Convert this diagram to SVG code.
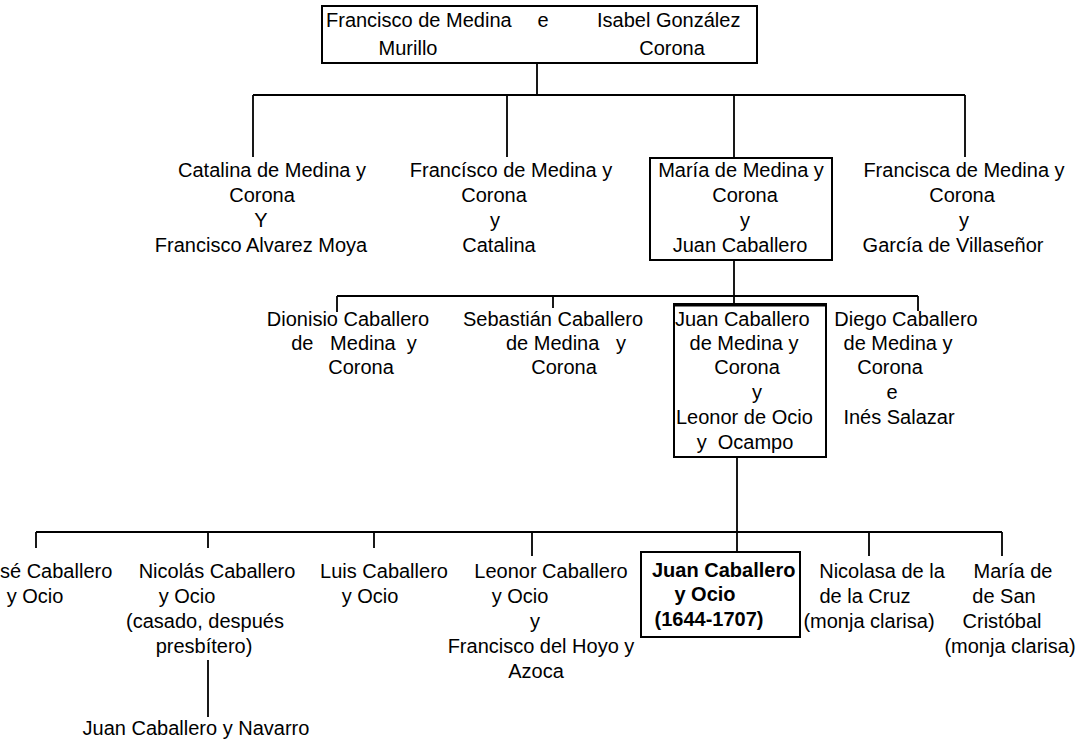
<svg xmlns="http://www.w3.org/2000/svg" width="1092" height="747" viewBox="0 0 1092 747">
<style>
text{font-family:"Liberation Sans",Arial,sans-serif;font-size:20px;fill:#000;text-anchor:middle}
.b{font-weight:bold}
.s{text-anchor:start}
.box{fill:none;stroke:#000;stroke-width:2}
.ln{fill:none;stroke:#000;stroke-width:1.8}
</style>
<rect width="1092" height="747" fill="#fff"/>
<g id="connectors" class="ln">
<path d="M537 63V95M253 95H965M253 95V157M507 95V157M734 95V158M965 95V157"/>
<path d="M734 260V304M337 296H918M337 296V312M553 296V308M918 296V311"/>
<path d="M737 457V552M36 532H1002M36 532V548M208 532V548M374 532V548M532 532V556M869 532V556M1002 532V556"/>
<path d="M208 660V717"/>
</g>
<g id="n-parents">
<rect class="box" x="322" y="6" width="435" height="57"/>
<text class="s" x="326" y="27">Francisco de Medina</text>
<text x="543" y="27">e</text>
<text class="s" x="597" y="27">Isabel González</text>
<text x="408" y="55">Murillo</text>
<text x="672" y="55">Corona</text>
</g>
<g id="n-catalina">
<text x="272" y="177">Catalina de Medina y</text>
<text x="262" y="202">Corona</text>
<text x="261" y="227">Y</text>
<text x="261" y="252">Francisco Alvarez Moya</text>
</g>
<g id="n-francisco">
<text x="511" y="177">Francísco de Medina y</text>
<text x="494" y="202">Corona</text>
<text x="495" y="227">y</text>
<text x="499" y="252">Catalina</text>
</g>
<g id="n-maria">
<rect class="box" x="650" y="158" width="182" height="102"/>
<text x="741" y="177">María de Medina y</text>
<text x="745" y="202">Corona</text>
<text x="745" y="227">y</text>
<text x="740" y="252">Juan Caballero</text>
</g>
<g id="n-francisca">
<text x="964" y="177">Francisca de Medina y</text>
<text x="962" y="202">Corona</text>
<text x="964" y="227">y</text>
<text x="953" y="252">García de Villaseñor</text>
</g>
<g id="n-dionisio">
<text x="348" y="326">Dionisio Caballero</text>
<text x="354" y="350" xml:space="preserve">de   Medina  y</text>
<text x="361" y="374">Corona</text>
</g>
<g id="n-sebastian">
<text x="553" y="326">Sebastián Caballero</text>
<text x="566" y="350" xml:space="preserve">de Medina   y</text>
<text x="564" y="374">Corona</text>
</g>
<g id="n-juan-medina">
<rect class="box" x="674" y="304" width="152" height="153"/>
<path d="M674 305H826" stroke="#000" stroke-width="3"/>
<text class="s" x="675" y="326">Juan Caballero</text>
<text x="744" y="350">de Medina y</text>
<text x="747" y="374">Corona</text>
<text x="757" y="399">y</text>
<text class="s" x="676" y="424">Leonor de Ocio</text>
<text x="745" y="449" xml:space="preserve">y  Ocampo</text>
</g>
<g id="n-diego">
<text x="906" y="326">Diego Caballero</text>
<text x="898" y="350">de Medina y</text>
<text x="890" y="374">Corona</text>
<text x="892" y="399">e</text>
<text x="899" y="424">Inés Salazar</text>
</g>
<g id="n-jose">
<text class="s" x="0" y="578">sé Caballero</text>
<text x="35" y="603">y Ocio</text>
</g>
<g id="n-nicolas">
<text x="217" y="578">Nicolás Caballero</text>
<text x="187" y="603">y Ocio</text>
<text x="205" y="628">(casado, después</text>
<text x="204" y="653">presbítero)</text>
</g>
<g id="n-navarro">
<text x="196" y="735">Juan Caballero y Navarro</text>
</g>
<g id="n-luis">
<text x="384" y="578">Luis Caballero</text>
<text x="370" y="603">y Ocio</text>
</g>
<g id="n-leonor">
<text x="551" y="578">Leonor Caballero</text>
<text x="520" y="603">y Ocio</text>
<text x="535" y="628">y</text>
<text x="541" y="653">Francisco del Hoyo y</text>
<text x="536" y="678">Azoca</text>
</g>
<g id="n-juan-ocio">
<rect class="box" x="641" y="552" width="159" height="85"/>
<text class="s b" x="652" y="577">Juan Caballero</text>
<text class="b" x="705" y="601">y Ocio</text>
<text class="b" x="709" y="626">(1644-1707)</text>
</g>
<g id="n-nicolasa">
<text x="882" y="578">Nicolasa de la</text>
<text x="865" y="603">de la Cruz</text>
<text x="869" y="628">(monja clarisa)</text>
</g>
<g id="n-maria-sc">
<text x="1013" y="578">María de</text>
<text x="1004" y="603">de San</text>
<text x="1002" y="628">Cristóbal</text>
<text x="1010" y="653">(monja clarisa)</text>
</g>
</svg>
